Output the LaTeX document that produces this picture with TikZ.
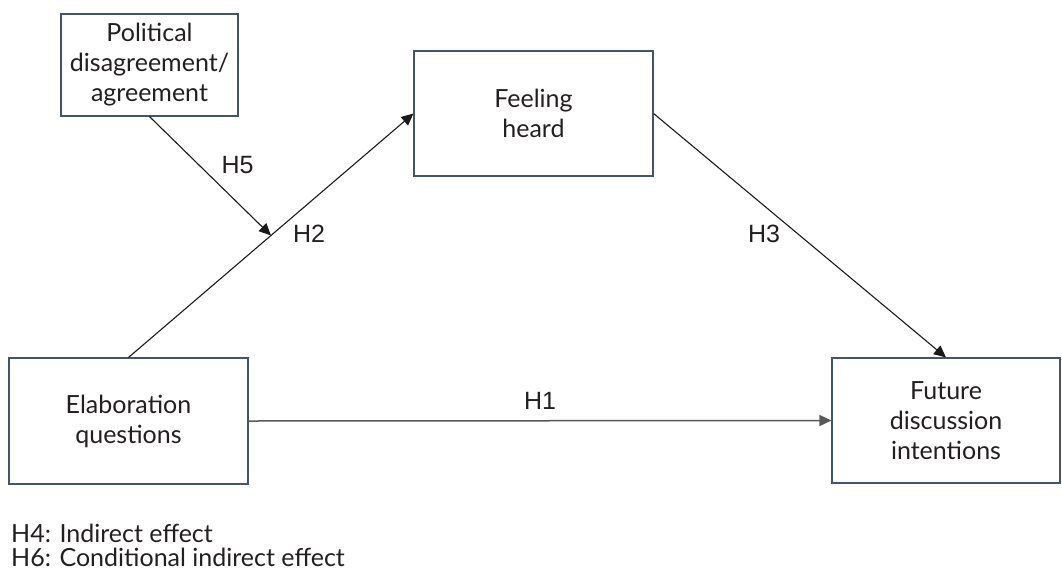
\documentclass[tikz,border=0pt]{standalone}
\usepackage{fontspec}
\setmainfont{Lato}
\newfontfamily\labfont{Liberation Sans}
\usetikzlibrary{arrows.meta,calc}
\definecolor{boxline}{HTML}{44546A}
\definecolor{txt}{HTML}{231F20}
\definecolor{conn}{HTML}{1A1A1A}
\definecolor{hline}{HTML}{595959}
\tikzset{
  varbox/.style={draw=boxline, line width=1.1pt, fill=white, align=center,
    text=txt, inner sep=0pt, font=\fontsize{25}{30}\selectfont},
  path/.style={draw=conn, line width=1.1pt, -{Triangle[length=12pt,width=11pt]}},
  hyp/.style={text=txt, font=\labfont\fontsize{25}{30}\selectfont, inner sep=0pt},
  legend/.style={text=txt, anchor=north west, align=left, inner sep=0pt,
    font=\fontsize{25}{24}\selectfont}
}
\begin{document}
\begin{tikzpicture}[x=1pt,y=-1pt]
\useasboundingbox (0,0) rectangle (1062,576);
\node[varbox, minimum width=177pt, minimum height=102pt] (pol) at (149.5,65) {Political\\disagreement/\\agreement};
\node[varbox, minimum width=239pt, minimum height=125pt] (feel) at (533.5,113.5) {Feeling\\heard};
\node[varbox, minimum width=239pt, minimum height=126pt] (elab) at (128.5,421) {Elaboration\\questions};
\node[varbox, minimum width=228pt, minimum height=125pt] (fut) at (946,420.5) {Future\\discussion\\intentions};
\coordinate (mid) at ($(elab.north)!0.5!(feel.west)$);
\draw[path] (elab.north) -- (feel.west);
\draw[path] (pol.south) -- (mid);
\draw[path] (feel.east) -- (fut.north);
\draw[path, draw=hline, line width=1.5pt] (elab.east) -- (fut.west);
\node[hyp] (h5) at (237.5,165) {H5};
\node[hyp] (h2) at (309,234) {H2};
\node[hyp] (h3) at (764,234) {H3};
\node[hyp] (h1) at (540,401) {H1};
\node[legend] (leg) at (11,524) {H4: Indirect effect\\H6: Conditional indirect effect};
\end{tikzpicture}
\end{document}
